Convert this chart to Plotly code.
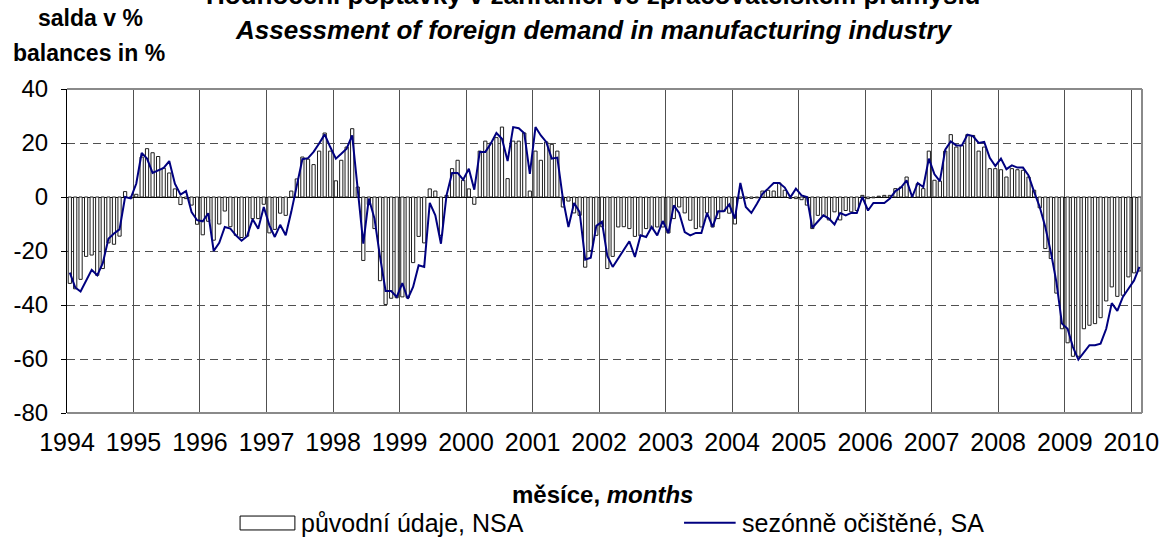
import plotly.graph_objects as go
import pandas as pd

# ---------------- data ----------------
years = [str(y) for y in range(1994, 2011)]

nsa_1994 = [-32, -34, -30.5, -22, -21.5, -29, -26.5, -17, -17.5, -14.5, 2, -0.5]
nsa_1995 = [1, 14.8, 17.9, 16.4, 15, 10.7, 8.9, 3, -2.8, -0.6, -3, -10.1]
nsa_1996 = [-14, -9, -16, -10, -5.2, -11, -14.2, -15, -14.5, -8, -8, -2.7]
nsa_1997 = [-13.3, -12, -6, -6.8, 2.2, 6.7, 14.8, 14, 12, 17, 23.7, 17]
nsa_1998 = [6, 13.6, 18.5, 25.3, 3.7, -23.5, -2.8, -11.7, -31, -39.8, -37.5, -37.3]
nsa_1999 = [-37, -37.3, -24.3, -14.6, -17, 3, 2.2, -14.2, 0.6, 10.5, 13.6, 6.2]
nsa_2000 = [3, -2.7, 17, 20.7, 20, 22, 25.9, 6.8, 20.7, 20.7, 23.7, 2.2]
nsa_2001 = [17, 13.6, 20.4, 19.5, 17, -3.7, -1.5, -5.9, -6.8, -26, -19.8, -14.2]
nsa_2002 = [-11, -26.5, -22, -11.1, -11, -11.7, -14.6, -14.4, -11.7, -11.7, -11.1, -11.1]
nsa_2003 = [-13.3, -8, -3.7, -5.9, -8.6, -11.7, -11.1, -5.9, -11.1, -8, -5.3, -6]
nsa_2004 = [-10, -0.5, -0.5, -0.5, -0.3, 2.2, 2.5, 2.2, 5.2, 2.5, -0.5, -0.6]
nsa_2005 = [-1, -3, -11.7, -6.8, -7, -8.5, -5.5, -8.5, -5, -5.5, -5, 0.6]
nsa_2006 = [-0.6, -0.3, 0.3, 0.6, 0.6, 3.1, 3.7, 7.4, 0, 4.9, 3.1, 17]
nsa_2007 = [6.2, 5.9, 17, 23.1, 18.5, 19.1, 23.1, 22.8, 17, 18.5, 10.5, 10.5]
nsa_2008 = [10.1, 7.4, 10.5, 10.1, 9.9, 7.4, 2.5, -4, -19.1, -22.8, -35.6, -48.8]
nsa_2009 = [-54, -59, -59, -48.8, -47.5, -46.9, -44.7, -38.5, -33.3, -36.8, -36.4, -29.6]
nsa_2010 = [-28.1, -27.4]

sa_1994 = [-28, -33.5, -35, -31, -27, -29, -24.5, -15.5, -13.5, -12, 0, -0.5]
sa_1995 = [5, 16.3, 14.2, 8.9, 10, 10.8, 13.3, 4.9, 0.9, 2.2, -5.6, -8.6]
sa_1996 = [-9, -6, -20, -17, -11.1, -11.7, -14.2, -16.2, -14.5, -8.2, -11.8, -3.7]
sa_1997 = [-10.5, -14.8, -10.3, -14.2, -5.5, 4, 14, 14.4, 16.7, 19.8, 23.2, 18.5]
sa_1998 = [14.2, 16, 17.9, 22.8, 2.5, -17.3, -0.6, -8, -22.2, -34.8, -34.8, -37]
sa_1999 = [-31.9, -37.7, -33.3, -25.3, -25.9, -2.2, -6.8, -17.3, 0.6, 8.9, 8.9, 6.4]
sa_2000 = [10.5, 2.7, 16.7, 16.7, 19.8, 23.7, 21.6, 13.3, 25.9, 25.5, 23.6, 8.6]
sa_2001 = [25.9, 22.8, 20.4, 14.2, 14.6, -0.6, -11.1, -2.2, -5.6, -23.2, -22.5, -10.7]
sa_2002 = [-9.2, -21.8, -25.9, -22.8, -19.8, -16.4, -22.2, -14.2, -14.8, -11.1, -14.2, -8.9]
sa_2003 = [-13.4, -3.1, -5.9, -13, -14.2, -13.3, -13.3, -5.9, -11.1, -5.3, -5.3, -2.8]
sa_2004 = [-8, 5.2, -3.7, -5.9, -2.5, 1.2, 3.1, 5.2, 5.2, 3.5, -0.1, 3.1]
sa_2005 = [0.6, 0, -11.4, -9.2, -6.8, -8, -10.2, -5.9, -6.8, -5.9, -5.9, 0]
sa_2006 = [-5, -2.2, -2.2, -2.2, -0.6, 2.2, 3.5, 6.2, 0, 5.2, 3.7, 14.2]
sa_2007 = [8.4, 5.9, 17.5, 20.6, 19.1, 19.1, 23.1, 22.5, 20, 20.4, 14.5, 11.5]
sa_2008 = [14.2, 10.3, 11.7, 10.9, 10.9, 8, 1.9, -3.7, -11.1, -20.4, -31.5, -46.9]
sa_2009 = [-48.8, -55.6, -60.2, -57.4, -54.9, -54.9, -54.3, -48.8, -39.3, -42.2, -37, -34]
sa_2010 = [-30.9, -25.9]

y_ticks = [-80, -60, -40, -20, 0, 20, 40]
y_tick_text = ["-80", "-60", "-40", "-20", "0", "20", "40"]

nsa = (nsa_1994 + nsa_1995 + nsa_1996 + nsa_1997 + nsa_1998 + nsa_1999 + nsa_2000
       + nsa_2001 + nsa_2002 + nsa_2003 + nsa_2004 + nsa_2005 + nsa_2006 + nsa_2007
       + nsa_2008 + nsa_2009 + nsa_2010)
sa = (sa_1994 + sa_1995 + sa_1996 + sa_1997 + sa_1998 + sa_1999 + sa_2000
      + sa_2001 + sa_2002 + sa_2003 + sa_2004 + sa_2005 + sa_2006 + sa_2007
      + sa_2008 + sa_2009 + sa_2010)

months = pd.date_range("1994-01-01", periods=len(nsa), freq="MS")
year_starts = [f"{y}-01-01" for y in years]
x_end = (months[-1] + pd.offsets.MonthBegin(1)).strftime("%Y-%m-%d")

FONT = "Liberation Sans, Arial, sans-serif"
BORDER = "#8a8a8a"
GRID = "#505050"

fig = go.Figure()
fig.add_trace(go.Bar(
    x=months, y=nsa, xperiod="M1", xperiodalignment="middle",
    name="původní údaje, NSA", showlegend=False,
    marker=dict(color="white", line=dict(color="#1e1e1e", width=1)),
))
fig.add_trace(go.Scatter(
    x=months, y=sa, xperiod="M1", xperiodalignment="middle",
    mode="lines", name="sezónně očištěné, SA", showlegend=False,
    line=dict(color="#000080", width=2),
))

fig.update_layout(
    width=1164, height=541,
    margin=dict(l=67, r=22, t=89, b=128),
    paper_bgcolor="white", plot_bgcolor="white",
    font=dict(family=FONT, color="black", size=22),
    bargap=0.4,
    xaxis=dict(
        type="date", range=[year_starts[0], x_end], automargin=False,
        tickmode="array", tickvals=year_starts, ticktext=years,
        showgrid=True, gridcolor=GRID, gridwidth=1,
        ticks="", showline=False, zeroline=False,
        tickfont=dict(size=25, family=FONT),
        ticklabelstandoff=12,
    ),
    yaxis=dict(
        range=[-80, 40], automargin=False,
        tickmode="array", tickvals=y_ticks, ticktext=y_tick_text,
        showgrid=True, gridcolor=GRID, gridwidth=1, griddash="8px,5px",
        zeroline=True, zerolinecolor="black", zerolinewidth=1,
        showline=True, linecolor="black", linewidth=1,
        ticks="outside", ticklen=5, tickcolor="black",
        tickfont=dict(size=24, family=FONT),
        ticklabelstandoff=8,
    ),
)

# plot-area border (top, right, bottom)
for x0, y0, x1, y1 in [(0, 1, 1, 1), (1, 0, 1, 1), (0, 0, 1, 0)]:
    fig.add_shape(type="line", xref="paper", yref="paper", x0=x0, y0=y0, x1=x1, y1=y1,
                  line=dict(color=BORDER, width=2), layer="above")

# titles (the first title line is cropped at the top edge in the original)
fig.add_annotation(text="<b>Hodnocení poptávky v zahraničí ve zpracovatelském průmyslu</b>",
                   xref="paper", yref="paper", x=0.49, y=1.29, showarrow=False,
                   xanchor="center", yanchor="middle", font=dict(size=26, family=FONT))
fig.add_annotation(text="<b><i>Assessment of foreign demand in manufacturing industry</i></b>",
                   xref="paper", yref="paper", x=0.49, y=1.182, showarrow=False,
                   xanchor="center", yanchor="middle", font=dict(size=26, family=FONT))
fig.add_annotation(text="<b>salda v %</b>", xref="paper", yref="paper", x=0.022, y=1.219,
                   showarrow=False, xanchor="center", yanchor="middle",
                   font=dict(size=23, family=FONT))
fig.add_annotation(text="<b>balances in %</b>", xref="paper", yref="paper", x=0.020, y=1.111,
                   showarrow=False, xanchor="center", yanchor="middle",
                   font=dict(size=23, family=FONT))
fig.add_annotation(text="<b>měsíce, <i>months</i></b>", xref="paper", yref="paper", x=0.498, y=-0.25,
                   showarrow=False, xanchor="center", yanchor="middle",
                   font=dict(size=24, family=FONT))

# legend (drawn manually to match the wide swatches)
fig.add_shape(type="rect", xref="paper", yref="paper", x0=0.161, x1=0.212, y0=-0.318, y1=-0.361,
              line=dict(color="black", width=1), fillcolor="white")
fig.add_annotation(text="původní údaje, NSA", xref="paper", yref="paper", x=0.2158, y=-0.339,
                   showarrow=False, xanchor="left", yanchor="middle", font=dict(size=25, family=FONT))
fig.add_shape(type="line", xref="paper", yref="paper", x0=0.574, x1=0.622, y0=-0.339, y1=-0.339,
              line=dict(color="#000080", width=2))
fig.add_annotation(text="sezónně očištěné, SA", xref="paper", yref="paper", x=0.626, y=-0.339,
                   showarrow=False, xanchor="left", yanchor="middle", font=dict(size=25, family=FONT))

# remove the default 8px page margin so the figure fills the window exactly
fig.write_html("out.html",
               config={"displayModeBar": False},
               post_script="document.body.style.margin='0';document.body.style.overflow='hidden';")
